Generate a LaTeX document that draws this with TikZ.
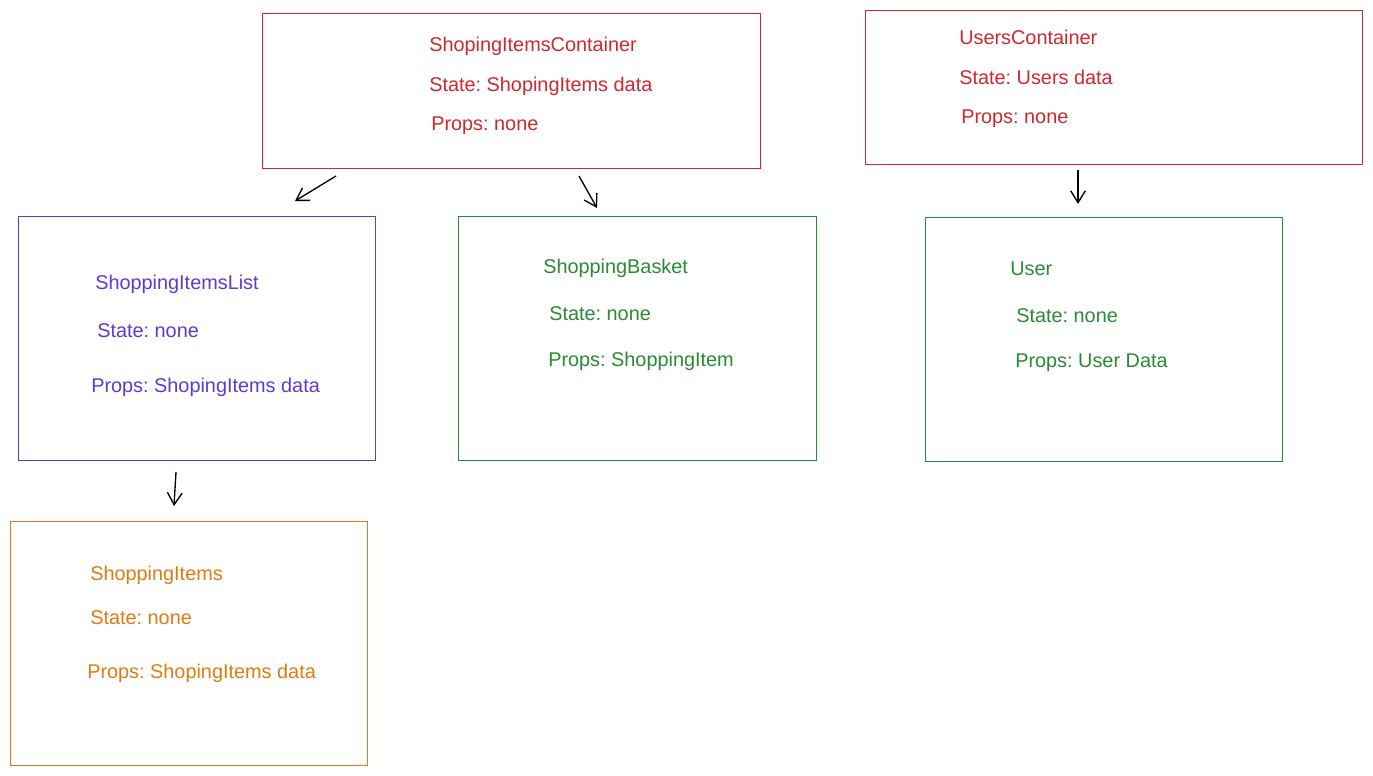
\documentclass[tikz,border=0pt]{standalone}
\usepackage{fontspec}
\setmainfont{Liberation Sans}
\usetikzlibrary{arrows.meta}
\definecolor{cred}{HTML}{D0282E}
\definecolor{cpurple}{HTML}{5B3BD6}
\definecolor{cgreen}{HTML}{2A8A35}
\definecolor{corange}{HTML}{E07B10}
\frenchspacing
\tikzset{
  box/.style={draw, line width=0.8pt, anchor=north west, inner sep=0pt, rectangle},
  lbl/.style={anchor=base west, inner sep=0pt, font=\fontsize{14.9pt}{18pt}\selectfont},
  arr/.style={draw=black, line width=1pt, -{Straight Barb[length=9pt,width=11pt]}},
}
\begin{document}
\begin{tikzpicture}[x=0.75pt,y=-0.75pt]
\useasboundingbox (0,0) rectangle (1373,775);
% boxes
\node[box, draw=cred, minimum width=498*0.75pt, minimum height=155*0.75pt] (sic) at (262,13) {};
\node[box, draw=cred, minimum width=497*0.75pt, minimum height=154*0.75pt] (uc) at (865,10) {};
\node[box, draw=cpurple, minimum width=357*0.75pt, minimum height=244*0.75pt] (sil) at (18,216) {};
\node[box, draw=cgreen, minimum width=358*0.75pt, minimum height=244*0.75pt] (sb) at (458,216) {};
\node[box, draw=cgreen, minimum width=357*0.75pt, minimum height=244*0.75pt] (usr) at (925,217) {};
\node[box, draw=corange, minimum width=357*0.75pt, minimum height=244*0.75pt] (si) at (10,521) {};
% texts
\node[lbl, text=cred] (sic1) at (429,51) {ShopingItemsContainer};
\node[lbl, text=cred] (sic2) at (429,91) {State: ShopingItems data};
\node[lbl, text=cred] (sic3) at (431,130) {Props: none};
\node[lbl, text=cred] (uc1) at (959,44.5) {UsersContainer};
\node[lbl, text=cred] (uc2) at (959,84.5) {State: Users data};
\node[lbl, text=cred] (uc3) at (961,123.5) {Props: none};
\node[lbl, text=cpurple] (sil1) at (95,289.5) {ShoppingItemsList};
\node[lbl, text=cpurple] (sil2) at (97,337.5) {State: none};
\node[lbl, text=cpurple] (sil3) at (91,392.5) {Props: ShopingItems data};
\node[lbl, text=cgreen] (sb1) at (543,273.5) {ShoppingBasket};
\node[lbl, text=cgreen] (sb2) at (549,320.5) {State: none};
\node[lbl, text=cgreen] (sb3) at (548,366.5) {Props: ShoppingItem};
\node[lbl, text=cgreen] (usr1) at (1010,275.5) {User};
\node[lbl, text=cgreen] (usr2) at (1016,322.5) {State: none};
\node[lbl, text=cgreen] (usr3) at (1015,367.5) {Props: User Data};
\node[lbl, text=corange] (si1) at (90,580.5) {ShoppingItems};
\node[lbl, text=corange] (si2) at (90,624.5) {State: none};
\node[lbl, text=corange] (si3) at (87,678.5) {Props: ShopingItems data};
% arrow end points
\coordinate (a1s) at (336,176); \coordinate (a1e) at (295,201);
\coordinate (a2s) at (579,176); \coordinate (a2e) at (597,208);
\coordinate (a3s) at (1078,170); \coordinate (a3e) at (1078,204);
\coordinate (a4s) at (176,472); \coordinate (a4e) at (174,506);
\draw[arr] (a1s) -- (a1e);
\draw[arr] (a2s) -- (a2e);
\draw[arr] (a3s) -- (a3e);
\draw[arr] (a4s) -- (a4e);
\end{tikzpicture}
\end{document}
